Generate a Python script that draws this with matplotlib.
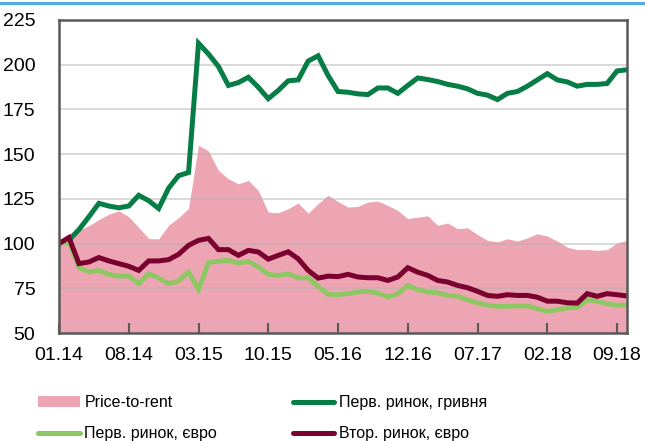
import numpy as np
import matplotlib.pyplot as plt
from matplotlib.lines import Line2D
from matplotlib.patches import Patch

plt.rcParams['font.family'] = ['Liberation Sans', 'DejaVu Sans']

# monthly index, 01.2014 .. 10.2018
months = np.arange(58)
tick_pos = [0, 7, 14, 21, 28, 35, 42, 49, 56]
tick_labels = ['01.14', '08.14', '03.15', '10.15', '05.16', '12.16', '07.17', '02.18', '09.18']

price_to_rent = [100, 103.7, 107.5, 110, 113.4, 116.4, 118.3, 115, 109, 102.8,
                 102.6, 110.3, 114.5, 119.6, 155, 151.7, 140.9, 136.2, 133.4, 135.3,
                 129.7, 117.6, 117.2, 119.5, 122.6, 117, 122.3, 127, 123.5, 120.4,
                 120.8, 123.2, 123.7, 121.3, 118.5, 113.9, 114.8, 115.5, 110.2, 111.5,
                 108.3, 108.8, 105, 101.8, 101, 102.7, 101.4, 103.2, 105.5, 104.2,
                 101.4, 98, 96.6, 96.7, 96.2, 96.6, 100.3, 101.8]

prim_uah = [100, 102, 107.8, 115, 122.5, 121, 120, 121, 127, 124,
            119.6, 131, 138, 139.7, 212, 206, 199, 188.4, 190, 193,
            187.4, 181, 185.6, 191, 191.5, 202, 205, 194, 185, 184.6,
            183.7, 183.3, 187, 187, 184, 188.4, 192.6, 191.7, 190.6, 189,
            188, 186.5, 184, 183, 180.5, 184, 185, 188, 191.5, 195,
            191.5, 190.4, 188, 189, 189, 189.5, 196.5, 197.2]

prim_eur = [100, 101, 86.6, 84.1, 85, 82.8, 81.7, 81.9, 77.6, 83.2,
            80.8, 77.6, 79.1, 84.1, 74.3, 89.3, 90.2, 90.6, 89.1, 90,
            86.9, 82.8, 82.2, 83.1, 80.9, 80.9, 76, 71.6, 71.4, 72,
            72.9, 73.3, 72.3, 70.1, 72, 76.6, 74.2, 72.9, 72.5, 71,
            70.5, 68.6, 66.8, 65.5, 64.9, 64.9, 65.1, 65.1, 63.6, 62.1,
            63, 64, 64.2, 68.6, 67.7, 66.4, 65.5, 65.7]

sec_eur = [100, 103.4, 88.8, 89.7, 92.2, 90.3, 88.8, 87.3, 85, 90.3,
           90.3, 91, 94, 99, 101.8, 102.9, 96.6, 96.6, 93.4, 96.2,
           95.3, 91.3, 93.4, 95.4, 91.5, 85, 80.7, 81.8, 81.5, 82.8,
           81.3, 80.9, 80.9, 79.4, 81.3, 86.5, 84, 82.2, 79.4, 78.5,
           76.6, 75.3, 73.3, 71, 70.5, 71.4, 71, 71, 70, 67.8,
           67.8, 66.9, 66.7, 72, 70.5, 72, 71.4, 70.7]

c_pink = '#EDA5B3'
c_dgreen = '#067D44'
c_lgreen = '#8CC862'
c_dred = '#7A0030'

fig = plt.figure(figsize=(6.45, 4.41), dpi=100)
ax = fig.add_axes([59 / 645, 1 - 333 / 441, (627 - 59) / 645, (333 - 20) / 441])

ax.fill_between(months, 50, price_to_rent, color=c_pink, lw=0, zorder=1)
for v in [75, 100, 125, 150, 175, 200]:
    ax.axhline(v, color='#B0B0B0', lw=1.2, alpha=0.55, zorder=2)
ax.plot(months, prim_uah, color=c_dgreen, lw=3.6, zorder=3, solid_joinstyle='miter')
ax.plot(months, prim_eur, color=c_lgreen, lw=3.4, zorder=3, solid_joinstyle='miter')
ax.plot(months, sec_eur, color=c_dred, lw=3.6, zorder=3, solid_joinstyle='miter')

ax.set_xlim(0, 57)
ax.set_ylim(50, 225)
ax.set_yticks([50, 75, 100, 125, 150, 175, 200, 225])
ax.set_xticks(tick_pos)
ax.set_xticklabels(tick_labels)
ax.tick_params(axis='x', direction='in', length=7, width=1.5, color='#595959',
               labelsize=14, pad=10)
ax.tick_params(axis='y', length=0, labelsize=14, pad=17)
for s in ax.spines.values():
    s.set_color('#595959')
    s.set_linewidth(1.8)
    s.set_zorder(4)

# thin blue rule along the top of the figure
fig.add_artist(Line2D([0, 1], [1 - 3 / 441, 1 - 3 / 441], color='#4DAEE3', lw=2.2))

handles = [Patch(color=c_pink, lw=0),
           Line2D([], [], color=c_lgreen, lw=3.6, solid_capstyle='round'),
           Line2D([], [], color=c_dgreen, lw=3.6, solid_capstyle='round'),
           Line2D([], [], color=c_dred, lw=3.6, solid_capstyle='round')]
labels = ['Price-to-rent', 'Перв. ринок, євро', 'Перв. ринок, гривня', 'Втор. ринок, євро']
fig.legend(handles, labels, ncol=2, loc='upper left', bbox_to_anchor=(31.6 / 645, 1 - 389 / 441),
           frameon=False, fontsize=11.5, handlelength=2.6, handletextpad=0.3,
           columnspacing=4.75, labelspacing=1.0, borderaxespad=0)

fig.savefig('out.png', dpi=100)
